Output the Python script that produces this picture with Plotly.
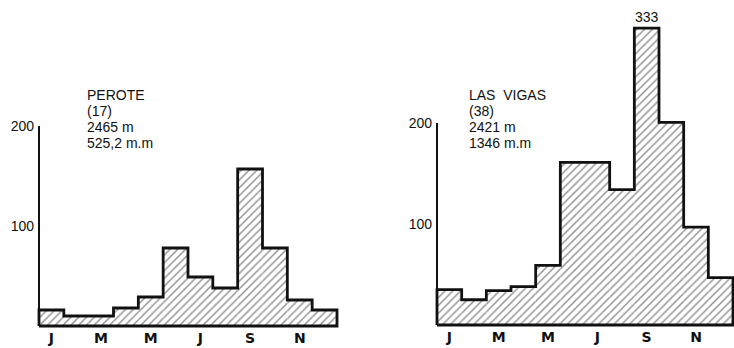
import plotly.graph_objects as go

# Monthly precipitation (mm), January..December
perote_mm = [16, 10, 10, 18, 29, 78, 49, 38, 157, 78, 26, 16]
las_vigas_mm = [35, 25, 34, 38, 59, 161, 161, 134, 333, 201, 97, 47]

month_tick_pos = [0, 2, 4, 6, 8, 10]
month_tick_text = ["J", "M", "M", "J", "S", "N"]
y_tick_vals = [100, 200]
y_tick_text = ["100", "200"]

perote_lines = ["PEROTE", "(17)", "2465 m", "525,2 m.m"]
las_vigas_lines = ["LAS  VIGAS", "(38)", "2421 m", "1346 m.m"]

# Scale above 200 mm is compressed (broken axis)
BREAK = 200
ABOVE_BREAK_SCALE = 0.707


def axis_value(v):
    return v if v <= BREAK else BREAK + (v - BREAK) * ABOVE_BREAK_SCALE


W, H = 734, 348
INK = "#111111"
TEXT_FONT = dict(family="Liberation Sans", size=14, color=INK)


def step_outline(values):
    xs, ys = [-0.5], [0]
    for i, v in enumerate(values):
        xs += [i - 0.5, i + 0.5]
        ys += [v, v]
    xs += [len(values) - 0.5, -0.5]
    ys += [0, 0]
    return xs, ys


# pixel geometry of each panel: left/right edge of the bars, baseline, px per mm
panels = [
    dict(name="1", values=perote_mm, x0=39, x1=337, base=326, ppu=1.0, top=80,
         pad_l=3, pad_r=3, lines=perote_lines, text_x=86, text_y0=95),
    dict(name="2", values=las_vigas_mm, x0=437, x1=733, base=325, ppu=1.01, top=22,
         pad_l=3, pad_r=1, lines=las_vigas_lines, text_x=468, text_y0=95),
]
LINE_STEP = 16

fig = go.Figure()
layout = dict(
    width=W, height=H, margin=dict(l=0, r=0, t=0, b=0, autoexpand=False),
    paper_bgcolor="white", plot_bgcolor="rgba(0,0,0,0)", showlegend=False,
)
annotations = []
shapes = []

for p in panels:
    xa = "x" if p["name"] == "1" else "x2"
    ya = "y" if p["name"] == "1" else "y2"
    vals = [axis_value(v) for v in p["values"]]
    n = len(vals)
    ppm = (p["x1"] - p["x0"]) / n  # px per month
    dom_l = p["x0"] - p["pad_l"]
    dom_r = min(W, p["x1"] + p["pad_r"])
    pad_b = 2
    x_range = [-0.5 - (p["x0"] - dom_l) / ppm, n - 0.5 + (dom_r - p["x1"]) / ppm]
    y_range = [-pad_b / p["ppu"], (p["base"] - p["top"]) / p["ppu"]]
    x_dom = [dom_l / W, dom_r / W]
    y_dom = [(H - p["base"] - pad_b) / H, (H - p["top"]) / H]

    fig.add_trace(go.Bar(
        x=list(range(n)), y=vals, width=1.0, xaxis=xa, yaxis=ya,
        marker=dict(color="white", line=dict(width=0),
                    pattern=dict(shape="/", fgcolor="#141414", bgcolor="white",
                                 size=5.5, solidity=0.24)),
        hoverinfo="skip",
    ))
    sx, sy = step_outline(vals)
    fig.add_trace(go.Scatter(
        x=sx, y=sy, mode="lines", xaxis=xa, yaxis=ya,
        line=dict(color=INK, width=2.8), hoverinfo="skip",
    ))

    axis_kw = dict(showgrid=False, zeroline=False, showline=False, ticks="",
                   fixedrange=True, automargin=False)
    layout["xaxis" if xa == "x" else "xaxis2"] = dict(
        axis_kw, domain=x_dom, range=x_range, anchor=ya,
        tickvals=month_tick_pos, ticktext=month_tick_text,
        tickfont=dict(family="DejaVu Sans", size=14, color=INK, weight="bold"),
        ticklabelstandoff=0,
    )
    layout["yaxis" if ya == "y" else "yaxis2"] = dict(
        axis_kw, domain=y_dom, range=y_range, anchor=xa,
        tickvals=y_tick_vals, ticktext=y_tick_text,
        tickfont=dict(family="Liberation Sans", size=14, color=INK),
        ticklabelstandoff=1,
    )

    # vertical axis line up to the 200 mm level
    shapes.append(dict(type="line", xref=xa, yref=ya, x0=-0.5, x1=-0.5,
                       y0=0, y1=max(y_tick_vals),
                       line=dict(color=INK, width=2)))

    # station header
    for k, txt in enumerate(p["lines"]):
        ty = p["text_y0"] + k * LINE_STEP
        annotations.append(dict(
            text=txt, xref="paper", yref="paper", x=p["text_x"] / W,
            y=1 - ty / H, xanchor="left", yanchor="middle", showarrow=False,
            font=TEXT_FONT, borderpad=0,
        ))

    # value label for bars beyond the scale break
    for i, v in enumerate(p["values"]):
        if v > BREAK + 100:
            annotations.append(dict(
                text=str(v), xref=xa, yref=ya, x=i, y=axis_value(v),
                xanchor="center", yanchor="bottom", yshift=1, showarrow=False,
                font=dict(family="Liberation Sans", size=14, color=INK),
            ))

layout["annotations"] = annotations
layout["shapes"] = shapes
fig.update_layout(**layout)
fig.write_html("out.html")
